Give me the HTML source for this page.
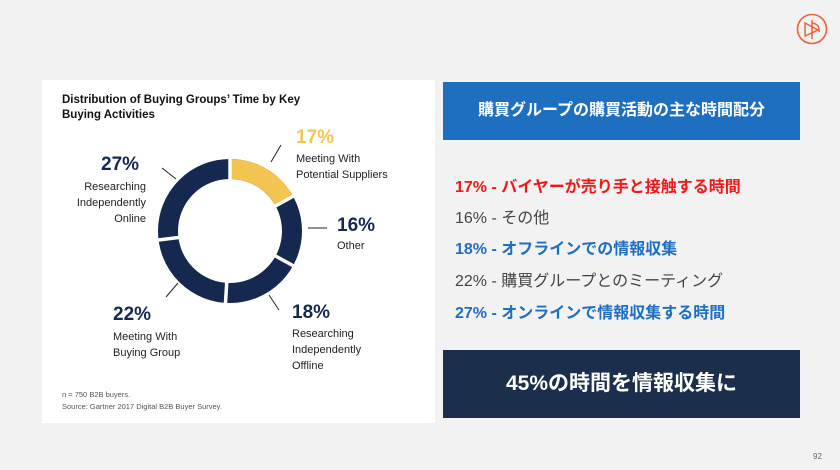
<!DOCTYPE html>
<html><head><meta charset="utf-8"><style>
body{margin:0;width:840px;height:470px;background:#f2f2f2;position:relative;overflow:hidden;font-family:"Liberation Sans","Noto Sans CJK JP",sans-serif}
.card{position:absolute;left:42px;top:80px;width:393px;height:343px;background:#fff}
.t{position:absolute;white-space:nowrap}
.jp{position:absolute;left:455px;font-size:16px;white-space:nowrap}
</style></head><body>
<svg style="position:absolute;left:796px;top:13px" width="32" height="32" viewBox="0 0 32 32">
<circle cx="16" cy="16" r="14.5" fill="none" stroke="#e8643a" stroke-width="1.6"/>
<path d="M16 7V26M9 10L22 17L9 23ZM16 10Q24 11 23 19" fill="none" stroke="#e8643a" stroke-width="1.5"/>
</svg>
<div class="card">
<div class="t" style="left:20px;top:13px;font-size:11.5px;font-weight:bold;line-height:15px;color:#111">Distribution of Buying Groups’ Time by Key<br>Buying Activities</div>
<svg style="position:absolute;left:0;top:0" width="393" height="343">
<g transform="translate(188,151)" fill="none" stroke-width="20">
<circle r="62" stroke="#15284f" />
<circle r="62" stroke="#f3c451" stroke-dasharray="66.2 400" transform="rotate(-90)"/>
</g>
<g transform="translate(188,151)" stroke="#fff" stroke-width="3.5">
<line x1="0" y1="-48" x2="0" y2="-76"/>
<line x1="0" y1="-48" x2="0" y2="-76" transform="rotate(61.2)"/>
<line x1="0" y1="-48" x2="0" y2="-76" transform="rotate(118.8)"/>
<line x1="0" y1="-48" x2="0" y2="-76" transform="rotate(183.6)"/>
<line x1="0" y1="-48" x2="0" y2="-76" transform="rotate(262.8)"/>
</g>
<g stroke="#222" stroke-width="1">
<line x1="239" y1="65" x2="229" y2="82"/><line x1="266" y1="148" x2="285" y2="148"/>
<line x1="227" y1="215" x2="237" y2="230"/><line x1="136" y1="203" x2="124" y2="217"/>
<line x1="120" y1="88" x2="134" y2="99"/>
</g>
<text x="20" y="317" font-size="7.5" fill="#555">n = 750 B2B buyers.</text>
<text x="20" y="329" font-size="7.5" fill="#555">Source: Gartner 2017 Digital B2B Buyer Survey.</text>
</svg>
<div class="t" style="left:254px;top:47px;font-size:19px;font-weight:bold;color:#f3c451">17%</div>
<div class="t" style="left:254px;top:71px;font-size:11px;line-height:16px;color:#222">Meeting With<br>Potential Suppliers</div>
<div class="t" style="left:295px;top:135px;font-size:19px;font-weight:bold;color:#15284f">16%</div>
<div class="t" style="left:295px;top:160px;font-size:11px;color:#222">Other</div>
<div class="t" style="left:250px;top:222px;font-size:19px;font-weight:bold;color:#15284f">18%</div>
<div class="t" style="left:250px;top:246px;font-size:11px;line-height:16px;color:#222">Researching<br>Independently<br>Offline</div>
<div class="t" style="left:71px;top:224px;font-size:19px;font-weight:bold;color:#15284f">22%</div>
<div class="t" style="left:71px;top:249px;font-size:11px;line-height:16px;color:#222">Meeting With<br>Buying Group</div>
<div class="t" style="left:59px;top:74px;font-size:19px;font-weight:bold;color:#15284f">27%</div>
<div class="t" style="right:289px;top:99px;font-size:11px;line-height:16px;color:#222;text-align:right">Researching<br>Independently<br>Online</div>
</div>
<div style="position:absolute;left:443px;top:82px;width:357px;height:58px;background:#1f6fc0;color:#fff;font-size:16px;font-weight:bold;line-height:58px;text-align:center">購買グループの購買活動の主な時間配分</div>
<div class="jp" style="top:173px;color:#f01818;font-weight:bold">17% - バイヤーが売り手と接触する時間</div>
<div class="jp" style="top:204px;color:#444">16% - その他</div>
<div class="jp" style="top:235px;color:#1f6fc0;font-weight:bold">18% - オフラインでの情報収集</div>
<div class="jp" style="top:267px;color:#444">22% - 購買グループとのミーティング</div>
<div class="jp" style="top:299px;color:#1f6fc0;font-weight:bold">27% - オンラインで情報収集する時間</div>
<div style="position:absolute;left:443px;top:350px;width:357px;height:68px;background:#1b2f4c;color:#fff;font-size:21px;font-weight:bold;line-height:68px;text-align:center">45%の時間を情報収集に</div>
<div class="t" style="left:813px;top:452px;font-size:8px;color:#666">92</div>
</body></html>
